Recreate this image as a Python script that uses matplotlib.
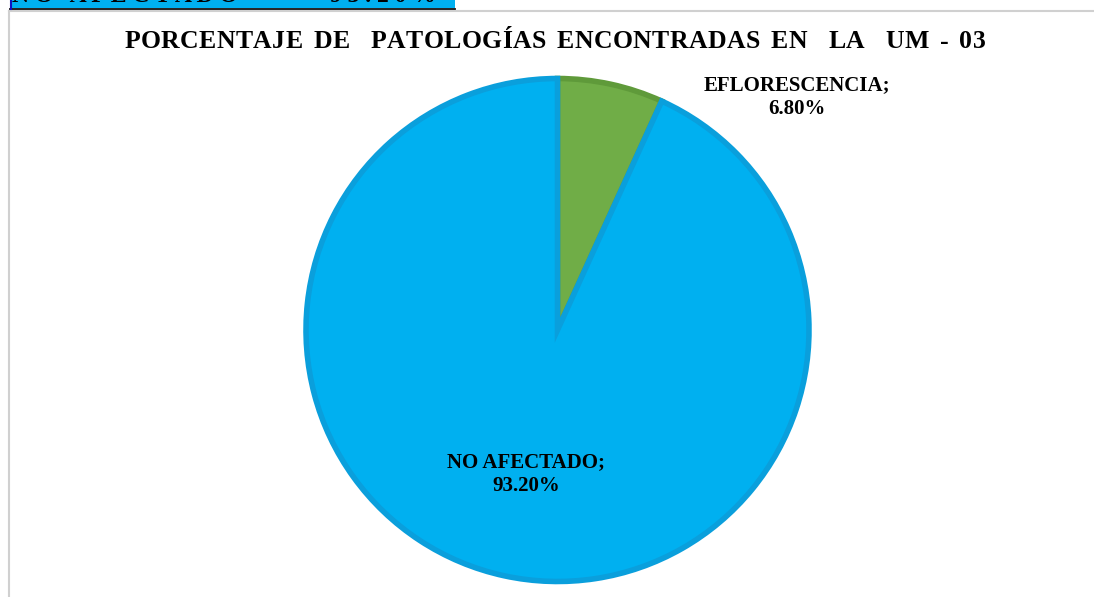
import matplotlib.pyplot as plt
from matplotlib.patches import Rectangle
from matplotlib.lines import Line2D

categorias = ["NO AFECTADO", "EFLORESCENCIA"]
porcentajes = [93.20, 6.80]
colores = ["#00B0F0", "#70AD47"]
bordes = ["#0A9FDC", "#5F9A3A"]
titulo = "PORCENTAJE DE  PATOLOGÍAS ENCONTRADAS EN  LA  UM - 03"

W, H = 1094, 597
fig = plt.figure(figsize=(W / 100, H / 100), dpi=100)
fig.patch.set_facecolor("white")

serif = ["Liberation Serif", "DejaVu Serif"]

# eje a pantalla completa en pixeles (y hacia arriba)
ax = fig.add_axes([0, 0, 1, 1])
ax.set_xlim(0, W)
ax.set_ylim(0, H)
ax.axis("off")

# borde del grafico (gris) arriba e izquierda
ax.add_line(Line2D([8.5, W], [H - 10.5, H - 10.5], color="#d0d0d0", lw=1.5))
ax.add_line(Line2D([8.5, 8.5], [0, H - 10.5], color="#d0d0d0", lw=1.5))

# celda superior cortada
ax.add_patch(Rectangle((10, H - 8), 445, 8, facecolor="#00B0F0", edgecolor="none"))
ax.add_line(Line2D([10, 455], [H - 8.5, H - 8.5], color="#111111", lw=1.3))
ax.add_line(Line2D([10.5, 10.5], [H - 8.5, H], color="#1010c0", lw=1.5))
for txt, x in [("N O   A F E C T A D O", 12), ("9 3 . 2 0 %", 330)]:
    t = ax.text(x, H - 7, txt, fontsize=17, fontweight="bold", family=serif,
                ha="left", va="bottom", color="black")
    t.set_clip_path(Rectangle((10, H - 8), 445, 8, transform=ax.transData))

cx, cy, r = 557.5, H - 330, 251.5
wedges, _ = ax.pie(porcentajes[::-1], colors=colores[::-1], startangle=90,
                   counterclock=False, center=(cx, cy), radius=r,
                   wedgeprops=dict(linewidth=4, joinstyle="miter"))
for w, ec in zip(wedges, bordes[::-1]):
    w.set_edgecolor(ec)
ax.set_xlim(0, W)
ax.set_ylim(0, H)
ax.set_aspect("auto")
ax.axis("off")

# titulo con espaciado entre letras
renderer = fig.canvas.get_renderer()
tracking = 0.4
piezas = []
total = 0
for ch in titulo:
    t = ax.text(0, H - 42, ch, fontsize=18.5, fontweight="bold", family=serif,
                ha="left", va="center")
    w = t.get_window_extent(renderer).width if ch != " " else 10
    piezas.append((t, w))
    total += w + tracking
total -= tracking
x = 555 - total / 2
for t, w in piezas:
    t.set_x(x)
    x += w + tracking

etiquetas = [f"{c};\n{p:.2f}%" for c, p in zip(categorias, porcentajes)]
ax.text(526, H - 474, etiquetas[0], fontsize=15, fontweight="bold", family=serif,
        ha="center", va="center", linespacing=1.3)
ax.text(797, H - 97, etiquetas[1], fontsize=15, fontweight="bold", family=serif,
        ha="center", va="center", linespacing=1.3)

fig.savefig("out.png", dpi=100)
